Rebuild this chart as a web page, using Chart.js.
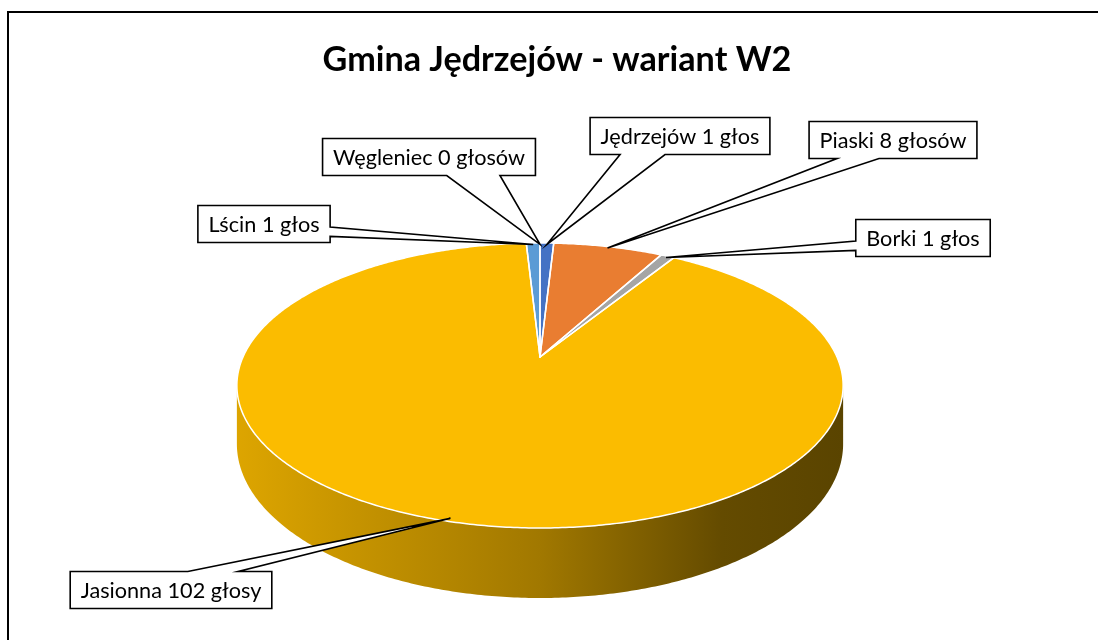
<!DOCTYPE html>
<html><head><meta charset="utf-8">
<script src="https://cdn.jsdelivr.net/npm/chart.js@4/dist/chart.umd.min.js"></script>
<style>html,body{margin:0;padding:0;background:#fff}canvas{display:block}</style>
</head><body>
<canvas id="c" width="1098" height="640"></canvas>
<script>
// ---- data ----
const categories = ['Jędrzejów', 'Piaski', 'Borki', 'Jasionna', 'Lścin', 'Węgleniec'];
const votes = [1, 8, 1, 102, 1, 0];
const sliceColors = ['#4472C4', '#E97D31', '#A5A5A5', '#FBBC00', '#5B9BD5', '#70AD47'];
const titleText = 'Gmina Jędrzejów - wariant W2';

// ---- layout (not data) ----
const FONT = 'Lato';
const geo = { cx: 540, cy: 357, rx: 297, ry: 136.8, tilt: 0.2, depth: 56 };
const calloutCenters = { 'Jędrzejów': [680, 136], 'Piaski': [893, 140], 'Borki': [923, 238],
  'Jasionna': [171, 590], 'Lścin': [264, 224], 'Węgleniec': [429, 157] };
const sideShade = [[0, 0.88], [0.5, 0.64], [0.8, 0.40], [1, 0.36]];

function glosy(n) {
  if (n === 1) return 'głos';
  const d = n % 10, h = n % 100;
  if (d >= 2 && d <= 4 && !(h >= 12 && h <= 14)) return 'głosy';
  return 'głosów';
}
const labelTexts = categories.map((c, i) => c + ' ' + votes[i] + ' ' + glosy(votes[i]));

const mctx = document.createElement('canvas').getContext('2d');
function fitSize(text, weight, target) {
  mctx.font = weight + ' 100px ' + FONT;
  return 100 * target / mctx.measureText(text).width;
}
const titleSize = fitSize(titleText, 'bold', 469);
const labelSize = fitSize('Węgleniec 0 głosów', 'normal', 192);

function proj(a, r) {
  const w = 1 - geo.tilt * r * Math.sin(a);
  return [geo.cx + geo.rx * r * Math.cos(a) / w, geo.cy + geo.ry * r * Math.sin(a) / w, w];
}
function shade(hex, f) {
  const n = parseInt(hex.slice(1), 16);
  const r = Math.round(((n >> 16) & 255) * f), g = Math.round(((n >> 8) & 255) * f), b = Math.round((n & 255) * f);
  return `rgb(${r},${g},${b})`;
}

const frame = {
  id: 'frame',
  beforeDraw(chart) {
    const ctx = chart.ctx;
    ctx.save(); ctx.fillStyle = '#fff'; ctx.fillRect(0, 0, chart.width, chart.height);
    ctx.strokeStyle = '#000'; ctx.lineWidth = 2; ctx.strokeRect(8, 12, 1200, 1200); ctx.restore();
  }
};

const pie3d = {
  id: 'pie3d',
  beforeDatasetDraw(chart, args) {
    const ctx = chart.ctx, arcs = args.meta.data;
    const aR = Math.asin(geo.tilt), aL = Math.PI - aR;
    const half = geo.rx / Math.sqrt(1 - geo.tilt * geo.tilt);
    ctx.save();
    // side walls (front half only)
    arcs.forEach((el, i) => {
      const s = el.startAngle, e = el.endAngle;
      if (e - s <= 1e-9) return;
      for (let k = -1; k <= 1; k++) {
        const lo = Math.max(s, aR + 2 * Math.PI * k), hi = Math.min(e, aL + 2 * Math.PI * k);
        if (hi <= lo) continue;
        const n = Math.max(2, Math.ceil((hi - lo) / 0.01));
        ctx.beginPath();
        for (let j = 0; j <= n; j++) { const p = proj(lo + (hi - lo) * j / n, 1); ctx.lineTo(p[0], p[1]); }
        for (let j = n; j >= 0; j--) { const p = proj(lo + (hi - lo) * j / n, 1); ctx.lineTo(p[0], p[1] + geo.depth / p[2]); }
        ctx.closePath();
        const g = ctx.createLinearGradient(geo.cx - half, 0, geo.cx + half, 0);
        sideShade.forEach(([t, f]) => g.addColorStop(t, shade(el.options.backgroundColor, f)));
        ctx.fillStyle = g; ctx.fill();
      }
    });
    // top face
    const paths = [];
    arcs.forEach((el) => {
      const s = el.startAngle, e = el.endAngle;
      if (e - s <= 1e-9) return;
      const n = Math.max(2, Math.ceil((e - s) / 0.01));
      const path = new Path2D();
      path.moveTo(geo.cx, geo.cy);
      for (let j = 0; j <= n; j++) { const p = proj(s + (e - s) * j / n, 1); path.lineTo(p[0], p[1]); }
      path.closePath();
      ctx.fillStyle = el.options.backgroundColor; ctx.fill(path);
      paths.push([path, el]);
    });
    paths.forEach(([path, el]) => {
      ctx.strokeStyle = el.options.borderColor; ctx.lineWidth = el.options.borderWidth; ctx.lineJoin = 'round';
      ctx.stroke(path);
    });
    ctx.restore();
    return false;
  },
  afterDatasetsDraw(chart) {
    const ctx = chart.ctx, arcs = chart.getDatasetMeta(0).data;
    ctx.save();
    ctx.font = `normal ${labelSize}px ${FONT}`;
    const pad = 10.5, h = 37;
    arcs.forEach((el, i) => {
      const mid = (el.startAngle + el.endAngle) / 2;
      const [tx, ty] = proj(mid, 0.985);
      const [bx, by] = calloutCenters[categories[i]];
      const text = labelTexts[i];
      const w = ctx.measureText(text).width + 2 * pad;
      const l = bx - w / 2, t = by - h / 2;
      const dx = tx - bx, dy = ty - by;
      const dq = dx * h / w, dz = Math.abs(dy) - Math.abs(dq);
      const x1 = l + w * (dx > 0 ? 7 : 2) / 12, x2 = l + w * (dx > 0 ? 10 : 5) / 12;
      const y1 = t + h * (dy > 0 ? 7 : 2) / 12, y2 = t + h * (dy > 0 ? 10 : 5) / 12;
      ctx.beginPath(); ctx.moveTo(l, t);
      if (dz > 0 && dy < 0) { ctx.lineTo(x1, t); ctx.lineTo(tx, ty); ctx.lineTo(x2, t); }
      ctx.lineTo(l + w, t);
      if (dz <= 0 && dx > 0) { ctx.lineTo(l + w, y1); ctx.lineTo(tx, ty); ctx.lineTo(l + w, y2); }
      ctx.lineTo(l + w, t + h);
      if (dz > 0 && dy > 0) { ctx.lineTo(x2, t + h); ctx.lineTo(tx, ty); ctx.lineTo(x1, t + h); }
      ctx.lineTo(l, t + h);
      if (dz <= 0 && dx < 0) { ctx.lineTo(l, y2); ctx.lineTo(tx, ty); ctx.lineTo(l, y1); }
      ctx.closePath();
      ctx.fillStyle = '#fff'; ctx.fill();
      ctx.strokeStyle = '#000'; ctx.lineWidth = 1.6; ctx.lineJoin = 'miter'; ctx.stroke();
      ctx.fillStyle = '#000'; ctx.textAlign = 'center'; ctx.textBaseline = 'middle';
      ctx.fillText(text, bx, by + 1);
    });
    ctx.restore();
  }
};

new Chart(document.getElementById('c'), {
  type: 'pie',
  data: {
    labels: categories,
    datasets: [{ data: votes, backgroundColor: sliceColors, borderColor: '#ffffff', borderWidth: 1.5 }]
  },
  options: {
    responsive: false, animation: false, events: [],
    layout: { padding: { left: 16, right: 0, top: 0, bottom: 0 } },
    plugins: {
      legend: { display: false }, tooltip: { enabled: false },
      title: { display: true, text: titleText, color: '#000',
        font: { family: FONT, size: titleSize, weight: 'bold', lineHeight: 1.2 },
        padding: { top: 39, bottom: 10 } }
    }
  },
  plugins: [frame, pie3d]
});
</script>
</body></html>
